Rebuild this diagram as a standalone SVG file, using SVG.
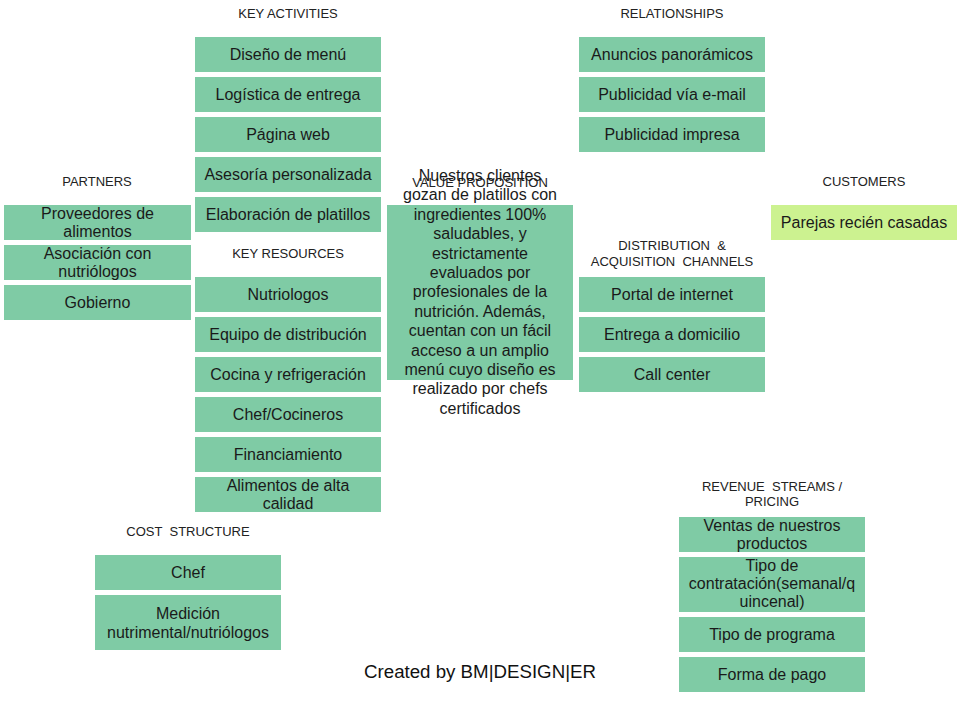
<svg xmlns="http://www.w3.org/2000/svg" width="960" height="720" viewBox="0 0 960 720">
<style>
.b{fill:#7fcba5}
.c{fill:#ccf290}
.t{font-family:"Liberation Sans",Arial,sans-serif;font-size:16px;fill:#1a1a1a;text-anchor:middle}
.l{font-family:"Liberation Sans",Arial,sans-serif;font-size:13px;fill:#222;text-anchor:middle;white-space:pre}
.f{font-family:"Liberation Sans",Arial,sans-serif;font-size:18.7px;fill:#111;text-anchor:middle}
</style>
<rect width="960" height="720" fill="#fff"/>
<g id="labels">
<text class="l" x="288" y="18">KEY ACTIVITIES</text>
<text class="l" x="672" y="18">RELATIONSHIPS</text>
<text class="l" x="97" y="186">PARTNERS</text>
<text class="l" x="288" y="258">KEY RESOURCES</text>
<text class="l" x="480" y="187">VALUE PROPOSITION</text>
<text class="l" x="864" y="186">CUSTOMERS</text>
<text class="l" x="672" y="250">DISTRIBUTION  &amp;</text>
<text class="l" x="672" y="266">ACQUISITION  CHANNELS</text>
<text class="l" x="772" y="491">REVENUE  STREAMS /</text>
<text class="l" x="772" y="506">PRICING</text>
<text class="l" x="188" y="536">COST  STRUCTURE</text>
</g>
<g id="ka1"><rect class="b" x="195" y="37" width="186" height="35"/><text class="t" x="288" y="60">Diseño de menú</text></g>
<g id="ka2"><rect class="b" x="195" y="77" width="186" height="35"/><text class="t" x="288" y="100">Logística de entrega</text></g>
<g id="ka3"><rect class="b" x="195" y="117" width="186" height="35"/><text class="t" x="288" y="140">Página web</text></g>
<g id="ka4"><rect class="b" x="195" y="157" width="186" height="35"/><text class="t" x="288" y="180">Asesoría personalizada</text></g>
<g id="ka5"><rect class="b" x="195" y="197" width="186" height="35"/><text class="t" x="288" y="220">Elaboración de platillos</text></g>
<g id="kr1"><rect class="b" x="195" y="277" width="186" height="35"/><text class="t" x="288" y="300">Nutriologos</text></g>
<g id="kr2"><rect class="b" x="195" y="317" width="186" height="35"/><text class="t" x="288" y="340">Equipo de distribución</text></g>
<g id="kr3"><rect class="b" x="195" y="357" width="186" height="35"/><text class="t" x="288" y="380">Cocina y refrigeración</text></g>
<g id="kr4"><rect class="b" x="195" y="397" width="186" height="35"/><text class="t" x="288" y="420">Chef/Cocineros</text></g>
<g id="kr5"><rect class="b" x="195" y="437" width="186" height="35"/><text class="t" x="288" y="460">Financiamiento</text></g>
<g id="kr6"><rect class="b" x="195" y="477" width="186" height="35"/><text class="t" x="288" y="491">Alimentos de alta</text><text class="t" x="288" y="509">calidad</text></g>
<g id="p1"><rect class="b" x="4" y="205" width="187" height="35"/><text class="t" x="97.5" y="219">Proveedores de</text><text class="t" x="97.5" y="237">alimentos</text></g>
<g id="p2"><rect class="b" x="4" y="245" width="187" height="35"/><text class="t" x="97.5" y="259">Asociación con</text><text class="t" x="97.5" y="277">nutriólogos</text></g>
<g id="p3"><rect class="b" x="4" y="285" width="187" height="35"/><text class="t" x="97.5" y="308">Gobierno</text></g>
<g id="vp"><rect class="b" x="387" y="205" width="186" height="175"/>
<text class="t" x="480" y="181">Nuestros clientes</text>
<text class="t" x="480" y="200.4">gozan de platillos con</text>
<text class="t" x="480" y="219.8">ingredientes 100%</text>
<text class="t" x="480" y="239.2">saludables, y</text>
<text class="t" x="480" y="258.6">estrictamente</text>
<text class="t" x="480" y="278">evaluados por</text>
<text class="t" x="480" y="297.4">profesionales de la</text>
<text class="t" x="480" y="316.8">nutrición. Además,</text>
<text class="t" x="480" y="336.2">cuentan con un fácil</text>
<text class="t" x="480" y="355.6">acceso a un amplio</text>
<text class="t" x="480" y="375">menú cuyo diseño es</text>
<text class="t" x="480" y="394.4">realizado por chefs</text>
<text class="t" x="480" y="413.8">certificados</text>
</g>
<g id="r1"><rect class="b" x="579" y="37" width="186" height="35"/><text class="t" x="672" y="60">Anuncios panorámicos</text></g>
<g id="r2"><rect class="b" x="579" y="77" width="186" height="35"/><text class="t" x="672" y="100">Publicidad vía e-mail</text></g>
<g id="r3"><rect class="b" x="579" y="117" width="186" height="35"/><text class="t" x="672" y="140">Publicidad impresa</text></g>
<g id="d1"><rect class="b" x="579" y="277" width="186" height="35"/><text class="t" x="672" y="300">Portal de internet</text></g>
<g id="d2"><rect class="b" x="579" y="317" width="186" height="35"/><text class="t" x="672" y="340">Entrega a domicilio</text></g>
<g id="d3"><rect class="b" x="579" y="357" width="186" height="35"/><text class="t" x="672" y="380">Call center</text></g>
<g id="cu"><rect class="c" x="771" y="205" width="186" height="35"/><text class="t" x="864" y="228">Parejas recién casadas</text></g>
<g id="rs1"><rect class="b" x="679" y="517" width="186" height="35"/><text class="t" x="772" y="531">Ventas de nuestros</text><text class="t" x="772" y="549">productos</text></g>
<g id="rs2"><rect class="b" x="679" y="557" width="186" height="55"/><text class="t" x="772" y="571">Tipo de</text><text class="t" x="772" y="589">contratación(semanal/q</text><text class="t" x="772" y="607">uincenal)</text></g>
<g id="rs3"><rect class="b" x="679" y="617" width="186" height="35"/><text class="t" x="772" y="640">Tipo de programa</text></g>
<g id="rs4"><rect class="b" x="679" y="657" width="186" height="35"/><text class="t" x="772" y="680">Forma de pago</text></g>
<g id="cs1"><rect class="b" x="95" y="555" width="186" height="35"/><text class="t" x="188" y="578">Chef</text></g>
<g id="cs2"><rect class="b" x="95" y="595" width="186" height="55"/><text class="t" x="188" y="619">Medición</text><text class="t" x="188" y="638">nutrimental/nutriólogos</text></g>
<g id="connectors"></g>
<text class="f" x="480" y="678">Created by BM|DESIGN|ER</text>
</svg>
